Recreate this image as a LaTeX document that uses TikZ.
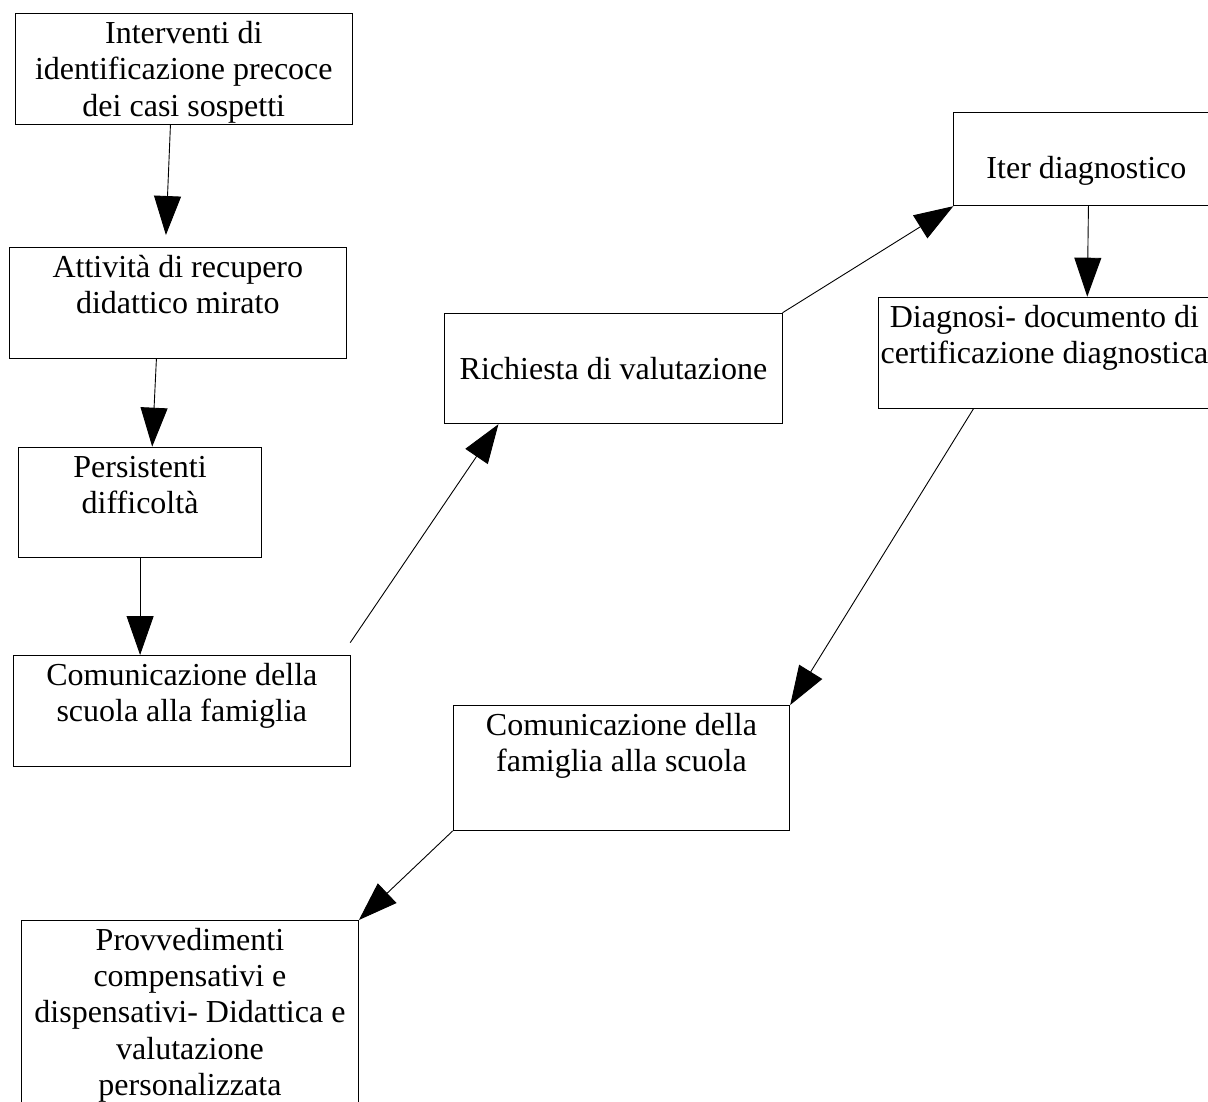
\documentclass[tikz,border=0pt]{standalone}
\usepackage{fontspec}
\setmainfont{Liberation Serif}
\usetikzlibrary{arrows.meta,calc}
\newcommand\boxtxt[4]{\parbox[c][#1][t]{#2}{\centering\vspace*{#3}\strut #4\par}}
\begin{document}
\begin{tikzpicture}[x=1pt,y=-1pt,
  box/.style={draw=black, line width=0.9pt, rectangle, inner sep=0pt, anchor=north west,
    font=\fontsize{32}{36.2}\selectfont},
  arr/.style={draw=black, line width=0.9pt, -{Triangle[length=39pt,width=27pt]}}]
\useasboundingbox (0,0) rectangle (1208,1101);
\clip (0,0) rectangle (1208,1101);
\fill[white] (0,0) rectangle (1208,1101);

\node[box] (A) at (15,13.3) {\boxtxt{111pt}{336.7pt}{4.66pt}{Interventi di\\identificazione precoce\\dei casi sospetti}};
\node[box] (B) at (9,247.3) {\boxtxt{111pt}{336.7pt}{4.66pt}{Attività di recupero\\didattico mirato}};
\node[box] (C) at (18.3,446.7) {\boxtxt{110pt}{242.7pt}{4.66pt}{Persistenti\\difficoltà}};
\node[box] (D) at (12.7,655) {\boxtxt{111pt}{337.3pt}{4.66pt}{Comunicazione della\\scuola alla famiglia}};
\node[box] (E) at (444.3,312.7) {\boxtxt{110.6pt}{337.4pt}{40.86pt}{Richiesta di valutazione}};
\node[box] (F) at (953.3,112.3) {\boxtxt{93pt}{265.4pt}{40.86pt}{Iter diagnostico}};
\node[box] (G) at (878.3,296.7) {\boxtxt{111pt}{331.4pt}{4.66pt}{Diagnosi- documento di\\certificazione diagnostica}};
\node[box] (H) at (452.7,705) {\boxtxt{125pt}{336.6pt}{4.66pt}{Comunicazione della\\famiglia alla scuola}};
\node[box] (I) at (21,920) {\boxtxt{200pt}{337pt}{4.66pt}{Provvedimenti\\compensativi e\\dispensativi- Didattica e\\valutazione\\personalizzata}};

\coordinate (d1) at ($(D.north east)+(-0.7,-12.3)$);

\draw[arr, shorten >=12.3pt] ($(A.south west)!0.4604!(A.south east)$) -- ($(B.north west)!0.4633!(B.north east)$);
\draw[arr] ($(B.south west)!0.4366!(B.south east)$) -- ($(C.north west)!0.5497!(C.north east)$);
\draw[arr] (C.south) -- (C.south |- D.north);
\draw[arr] (d1) -- ($(E.south west)!0.16!(E.south east)$);
\draw[arr] (E.north east) -- (F.south west);
\draw[arr] ($(F.south west)!0.5075!(F.south east)$) -- ($(G.north west)!0.6289!(G.north east)$);
\draw[arr] ($(G.south west)!0.2867!(G.south east)$) -- (H.north east);
\draw[arr] (H.south west) -- (I.north east);
\end{tikzpicture}
\end{document}
